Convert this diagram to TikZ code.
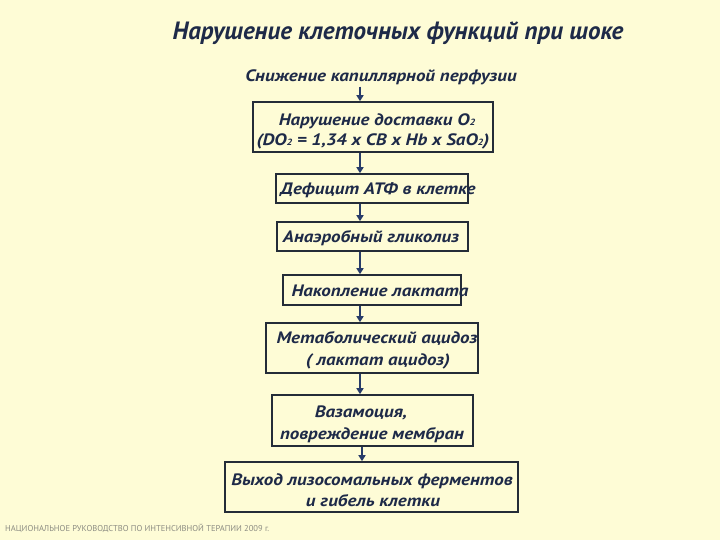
\documentclass[tikz,border=0pt]{standalone}
\usepackage{fontspec}
\setmainfont{PT Sans}
\newfontfamily\rf{PT Sans}[FakeStretch=1.15]
\newfontfamily\ff{PT Sans}
\usetikzlibrary{arrows.meta}
\definecolor{bg}{RGB}{254,252,214}
\definecolor{ink}{RGB}{30,42,72}
\definecolor{edge}{RGB}{36,44,56}
\definecolor{arrc}{RGB}{40,60,105}
\definecolor{foot}{RGB}{140,140,130}
\newcommand\lowtwo{{\fontsize{9}{9}\selectfont 2}}
\tikzset{
  box/.style={draw=edge, line width=1.6pt, fill=bg, inner sep=0pt},
  txt/.style={font=\rf\bfseries\itshape\fontsize{16.5}{16.5}\selectfont, text=ink, inner sep=1pt, anchor=base},
  ttl/.style={font=\ff\bfseries\itshape\fontsize{25}{25}\selectfont, text=ink, inner sep=1pt, anchor=base},
  arr/.style={draw=arrc, line width=1.6pt, -{Triangle[width=7pt,length=6pt]}},
  ftxt/.style={font=\ff\fontsize{8.5}{8.5}\selectfont, text=foot, inner sep=0pt, anchor=base west}
}
\begin{document}
\begin{tikzpicture}[x=1pt,y=-1pt]
\fill[bg] (0,0) rectangle (720,540);
\useasboundingbox (0,0) rectangle (720,540);
\coordinate (ax) at (360,0);
\coordinate (bx) at (362,0);
% boxes
\node[box, minimum width=240pt, minimum height=50pt] (b1) at (373,127) {};
\node[box, minimum width=192pt, minimum height=29pt] (b2) at (372,188.5) {};
\node[box, minimum width=191pt, minimum height=29pt] (b3) at (372.5,236.5) {};
\node[box, minimum width=178pt, minimum height=30pt] (b4) at (372,290) {};
\node[box, minimum width=212pt, minimum height=50pt] (b5) at (372,348) {};
\node[box, minimum width=201pt, minimum height=51pt] (b6) at (372.5,420.5) {};
\node[box, minimum width=293pt, minimum height=50pt] (b7) at (371.5,487) {};
% texts
\node[ttl] (title) at (398,40) {Нарушение клеточных функций при шоке};
\node[txt] (s) at (381,82) {Снижение капиллярной перфузии};
\node[txt] (t1a) at (377,126) {Нарушение доставки O\lowtwo};
\node[txt] (t1b) at (373,146) {(DO\lowtwo\ = 1,34 x  CB x  Hb x SaO\lowtwo)};
\node[txt] (t2) at (378,195) {Дефицит АТФ в клетке};
\node[txt] (t3) at (371,243) {Анаэробный гликолиз};
\node[txt] (t4) at (380,296) {Накопление лактата};
\node[txt] (t5a) at (377,343) {Метаболический ацидоз};
\node[txt] (t5b) at (378,365) {( лактат ацидоз)};
\node[txt] (t6a) at (361,417) {Вазамоция,};
\node[txt] (t6b) at (372,439) {повреждение мембран};
\node[txt] (t7a) at (372,485) {Выход лизосомальных ферментов};
\node[txt] (t7b) at (373,506) {и гибель  клетки};
\node[ftxt] (foot) at (5,531) {НАЦИОНАЛЬНОЕ РУКОВОДСТВО ПО ИНТЕНСИВНОЙ ТЕРАПИИ 2009 г.};
% arrows
\draw[arr] (s.south -| ax) -- (b1.north -| ax);
\draw[arr] (b1.south -| ax) -- (b2.north -| ax);
\draw[arr] (b2.south -| ax) -- (b3.north -| ax);
\draw[arr] (b3.south -| ax) -- (b4.north -| ax);
\draw[arr] (b4.south -| ax) -- (b5.north -| ax);
\draw[arr] (b5.south -| ax) -- (b6.north -| ax);
\draw[arr] (b6.south -| bx) -- (b7.north -| bx);
\end{tikzpicture}
\end{document}
